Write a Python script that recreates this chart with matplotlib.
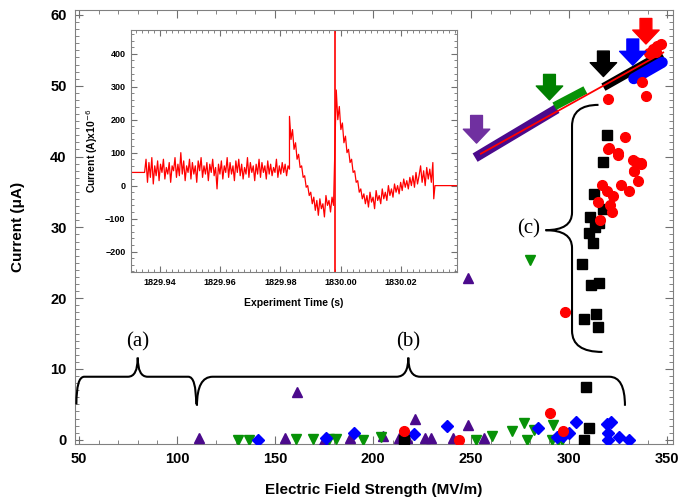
import numpy as np
import matplotlib
matplotlib.use("Agg")
import matplotlib.pyplot as plt
from matplotlib.path import Path
from matplotlib.patches import PathPatch
from matplotlib.ticker import MultipleLocator

plt.rcParams['font.family'] = ['Liberation Sans', 'DejaVu Sans']

# ---------------- main scatter data (field MV/m, current uA) ----------------
purple_x = [111.3, 155.1, 161.0, 175.1, 188.5, 204.9, 213.2, 217.3, 221.4, 226.5, 229.6, 241.0, 248.2, 256.4, 248.5]
purple_y = [0.2, 0.2, 6.8, 0.0, 0.3, 0.5, 0.3, 0.3, 2.9, 0.2, 0.2, 0.2, 2.1, 0.3, 22.9]

green_x = [130.9, 136.6, 160.7, 169.5, 177.8, 181.3, 194.7, 204.0, 252.3, 260.5, 270.8, 276.9, 278.6, 282.0, 291.8, 291.4, 294.4, 296.5, 280.0]
green_y = [0.0, 0.0, 0.1, 0.1, 0.1, 0.1, 0.0, 0.4, 0.0, 0.6, 1.2, 2.3, 0.0, 1.4, 2.1, 0.0, 0.0, 0.0, 25.4]

blue_x = [141.2, 176.1, 190.1, 221.0, 237.9, 284.2, 293.8, 300.0, 303.7, 319.1, 320.1, 321.2, 325.3, 330.5, 320.0, 297.0]
blue_y = [0.0, 0.3, 1.0, 0.8, 1.9, 1.7, 0.4, 1.0, 2.5, 2.2, 1.0, 2.5, 0.4, 0.0, 0.0, 0.5]

red_x = [215.8, 244.0, 290.3, 297.1, 297.8,
         320.0, 325.0, 334.2, 336.7, 333.3, 335.0, 326.7, 330.8, 316.7, 319.2, 322.5, 320.8, 315.0, 321.7, 315.8,
         320.0, 339.2, 337.2, 328.3, 320.3, 325.0, 332.5, 336.7, 333.3,
         341.0, 343.0, 345.0, 347.0, 344.5]
red_y = [1.3, 0.0, 3.8, 1.3, 18.0,
         41.0, 40.2, 39.3, 39.0, 37.9, 36.5, 36.0, 35.1, 36.0, 35.1, 34.4, 33.2, 33.6, 32.2, 31.0,
         48.1, 48.5, 50.6, 42.8, 41.2, 40.5, 39.5, 39.1, 37.9,
         54.6, 55.2, 55.6, 55.9, 54.8]

black_x = [215.6, 307.8, 310.3, 308.4,
           317.5, 312.8, 317.2, 310.5, 315.5, 313.3, 310.0, 312.2, 306.7, 311.2, 315.5, 307.8, 313.8, 314.5,
           319.5]
black_y = [0.0, 0.0, 1.7, 7.4,
           39.3, 34.7, 32.6, 31.4, 30.6, 30.0, 29.2, 27.8, 24.8, 21.8, 22.1, 17.0, 17.7, 15.9,
           43.1]

# dense bands of breakdown points along the fit line (start / end)
band_purple_x = [254.2, 291.7]
band_purple_y = [40.2, 46.4]
band_green_x = [292.5, 308.3]
band_green_y = [47.1, 49.4]
band_black_x = [317.5, 347.5]
band_black_y = [49.8, 54.5]
band_blue_x = [333.0, 347.5]
band_blue_y = [51.0, 53.3]

fit_x = [255.0, 348.0]
fit_y = [40.4, 54.7]

# arrows: x, tail y, head y
arrow_x = [252.8, 290.0, 317.5, 332.5, 339.2]
arrow_top = [45.8, 51.6, 54.9, 56.6, 59.5]
arrow_tip = [41.9, 48.0, 51.3, 52.9, 55.9]
arrow_colors = ['#7030A0', '#008000', '#000000', '#0000FF', '#FF0000']

# ---------------- inset trace ----------------
t_flat0 = [1829.9305, 1829.9350]
i_flat0 = [40, 40]
i_seg1 = [40, 80, 10, 70, 25, 85, 5, 60, 30, 75, 15, 65, 40, 80, 20, 55, 35, 70, 10, 60,
          45, 85, 25, 65, 30, 100, 35, 75, 15, 60, 40, 80, 20, 70, 35, 60, 10, 75, 45, 85,
          25, 60, 35, 70, 15, 65, 40, 80, 30, 55, -10, 65, 35, 75, 20, 60, 40, 85, 25, 70,
          35, 60, 15, 75, 40, 80, 30, 65, 20, 55, 35, 85, 25, 70, 40, 60, 15, 65, 35, 80,
          25, 70, 40, 60, 20, 75, 35, 65, 30, 55, 40, 80, 25, 60, 35, 70, 40, 65, 30, 60, 50]
i_seg2 = [210, 140, 170, 110, 130, 80, 95, 55, 60, 25, 30, -5, 0, -30, -20, -55, -35, -75, -45, -90,
          -40, -70, -55, -95, -30, -60, -45, -80, -35, -60]
i_seg3 = [290, 200, 240, 170, 190, 130, 150, 100, 110, 70,
          80, 40, 45, 10, 15, -20, -10, -40, -25, -55,
          -30, -65, -20, -50, -35, -70, -15, -45, -30, -55,
          -10, -40, -20, -45, 0, -30, -10, -35, 5, -20,
          0, -25, 10, -15, 20, -5, 15, -10, 25, 0,
          30, -5, 40, 5, 30, 60, 10, 45, 0, 55,
          20, 50, 10, 70]
t_tail = [1830.0308, 1830.0312, 1830.0400]
i_tail = [-40, 0, 0]
t_spike = 1829.998

fig = plt.figure(figsize=(6.9, 5.01), dpi=100)
ax = fig.add_axes([75/690, 1-444/501, 598/690, 434/501])
ax.set_xlim(48, 353)
ax.set_ylim(-0.6, 60.7)

ax.plot(band_purple_x, band_purple_y, color='#4B0A8C', lw=7, solid_capstyle='projecting', zorder=3)
ax.plot(band_green_x, band_green_y, color='#079207', lw=6, solid_capstyle='butt', zorder=3)
ax.plot(band_black_x, band_black_y, color='black', lw=6, solid_capstyle='butt', zorder=3)
ax.plot(band_blue_x, band_blue_y, color='#0000FF', lw=8, solid_capstyle='round', zorder=3)

ax.plot(purple_x, purple_y, '^', color='#4B0A8C', ms=7.5, ls='none', zorder=4)
ax.plot(green_x, green_y, 'v', color='#079207', ms=7.5, ls='none', zorder=4)
ax.plot(blue_x, blue_y, 'D', color='#0000FF', ms=6.5, ls='none', zorder=4)
ax.plot(black_x, black_y, 's', color='black', ms=6.5, ls='none', zorder=4)
ax.plot(red_x, red_y, 'o', color='#FF0000', ms=7, ls='none', zorder=4)
ax.plot(fit_x, fit_y, color='#FF0000', lw=1.3, zorder=5)

for x, y0, y1, c in zip(arrow_x, arrow_top, arrow_tip, arrow_colors):
    ax.annotate('', xy=(x, y1), xytext=(x, y0),
                arrowprops=dict(arrowstyle='simple,head_length=1.0,head_width=1.9,tail_width=0.85',
                                color=c, shrinkA=0, shrinkB=0, mutation_scale=10), zorder=6)

# braces
def hbrace(x0, x1, xm, yb, yh, yt, rx, rxm):
    verts = [(x0, yb), (x0, yh), (x0 + rx, yh), (xm - rxm, yh), (xm, yh), (xm, yt),
             (xm, yh), (xm + rxm, yh), (x1 - rx, yh), (x1, yh), (x1, yb)]
    codes = [Path.MOVETO, Path.CURVE3, Path.CURVE3, Path.LINETO, Path.CURVE3, Path.CURVE3,
             Path.CURVE3, Path.CURVE3, Path.LINETO, Path.CURVE3, Path.CURVE3]
    ax.add_patch(PathPatch(Path(verts, codes), fill=False, lw=1.5, color='black', zorder=6))

def vbrace(xtop, ytop, xv, xt, ym, xbot, ybot, ry, rym):
    verts = [(xtop, ytop), (xv, ytop), (xv, ytop - ry), (xv, ym + rym), (xv, ym), (xt, ym),
             (xv, ym), (xv, ym - rym), (xv, ybot + ry), (xv, ybot), (xbot, ybot)]
    codes = [Path.MOVETO, Path.CURVE3, Path.CURVE3, Path.LINETO, Path.CURVE3, Path.CURVE3,
             Path.CURVE3, Path.CURVE3, Path.LINETO, Path.CURVE3, Path.CURVE3]
    ax.add_patch(PathPatch(Path(verts, codes), fill=False, lw=1.5, color='black', zorder=6))

hbrace(48.7, 109.8, 80.0, 5.0, 8.9, 11.6, 4.0, 5.0)
hbrace(110.2, 328.5, 218.0, 4.8, 8.9, 11.6, 8.0, 6.0)
vbrace(315.0, 47.3, 301.5, 288.0, 29.6, 317.0, 12.4, 3.0, 2.5)

tfont = dict(family=['Liberation Serif', 'DejaVu Serif'], fontsize=15)
ax.text(80, 12.4, '(a)', ha='center', va='bottom', **tfont)
ax.text(218, 12.4, '(b)', ha='center', va='bottom', **tfont)
ax.text(285, 29.8, '(c)', ha='right', va='center', **tfont)

ax.xaxis.set_major_locator(MultipleLocator(50))
ax.xaxis.set_minor_locator(MultipleLocator(10))
ax.yaxis.set_major_locator(MultipleLocator(10))
ax.yaxis.set_minor_locator(MultipleLocator(1))
ax.tick_params(which='both', direction='in', top=True, right=True, color='#707070')
ax.tick_params(which='major', length=6, labelsize=10.5, pad=6)
ax.tick_params(which='minor', length=3)
for lab in ax.get_xticklabels() + ax.get_yticklabels():
    lab.set_fontweight('bold')
for s in ax.spines.values():
    s.set_color('#808080')
ax.set_xlabel('Electric Field Strength (MV/m)', fontsize=11, fontweight='bold', labelpad=12)
ax.set_ylabel('Current (μA)', fontsize=11, fontweight='bold', labelpad=18)

# ---------------- inset ----------------
ins = fig.add_axes([131/690, 1-272/501, 326/690, 242/501])
ins.set_xlim(1829.9305, 1830.0385)
ins.set_ylim(-262, 472)
t1 = np.linspace(1829.9350, 1829.9830, len(i_seg1))
t2 = np.linspace(1829.9830, 1829.9976, len(i_seg2))
t3 = np.linspace(1829.9985, 1830.0305, len(i_seg3))
tt = np.concatenate([t_flat0, t1, t2, t3, t_tail])
ii = np.concatenate([i_flat0, i_seg1, i_seg2, i_seg3, i_tail])
ins.plot(tt, ii, color='#FF0000', lw=0.9)
ins.axvline(t_spike, color='#FF0000', lw=1.2)
ins.yaxis.set_major_locator(MultipleLocator(100))
ins.yaxis.set_minor_locator(MultipleLocator(20))
ins.xaxis.set_minor_locator(MultipleLocator(0.002))
ins.set_xticks([1829.94, 1829.96, 1829.98, 1830.00, 1830.02])
ins.set_xticklabels(['1829.94', '1829.96', '1829.98', '1830.00', '1830.02'])
ins.tick_params(which='both', direction='in', top=True, right=True, color='#707070')
ins.tick_params(which='major', length=4, labelsize=6.5, pad=4)
ins.tick_params(which='minor', length=2)
for lab in ins.get_xticklabels() + ins.get_yticklabels():
    lab.set_fontweight('bold')
for s in ins.spines.values():
    s.set_color('#808080')
ins.set_xlabel('Experiment Time (s)', fontsize=7.5, fontweight='bold', labelpad=8)
ins.set_ylabel('Current (A)x10$^{-6}$', fontsize=7.5, fontweight='bold', labelpad=4)

fig.savefig('out.png', dpi=100)
